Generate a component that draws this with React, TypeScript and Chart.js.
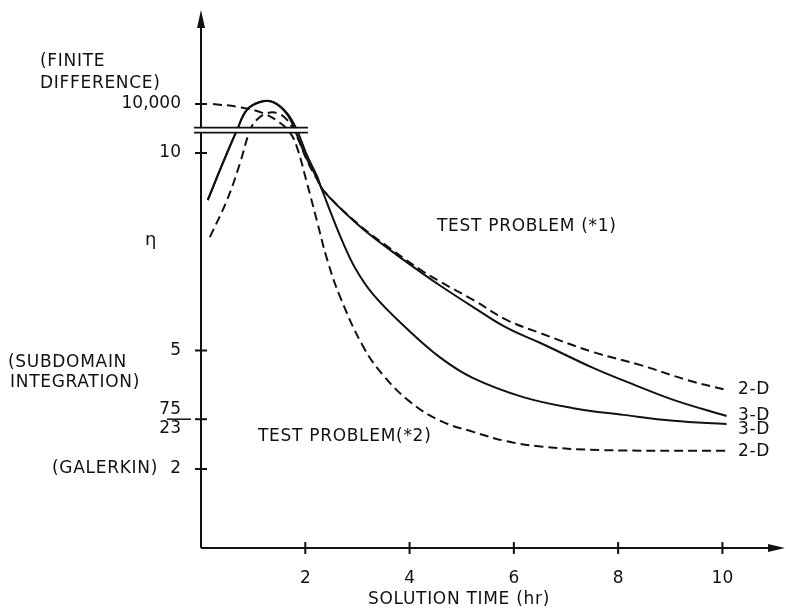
import React, { useEffect, useRef } from "react";
import { Chart, registerables } from "chart.js";

Chart.register(...registerables);

// ---- data (η in plot units; values above the break sit in the "10,000" band) ----
const X_TICKS = [2, 4, 6, 8, 10];
const Y_TICK_VALUES = [2, 75 / 23, 5, 10, 11.24];
const Y_TICK_LABELS: (string | string[])[] = ["2", ["75", "23"], "5", "10", "10,000"];

// Test problem #1, 2-D (dashed)
const A_X = [0.17, 0.5, 0.75, 0.94, 1.07, 1.27, 1.46, 1.65, 1.84, 2.03, 2.23, 2.34, 2.99, 3.63, 4.26, 4.59, 5.22, 5.87, 6.51, 7.52, 8.43, 9.33, 10.08];
const A_Y = [7.87, 8.81, 9.75, 10.58, 10.84, 11.01, 11.01, 10.84, 10.41, 9.82, 9.32, 9.06, 8.23, 7.58, 7.0, 6.74, 6.28, 5.77, 5.44, 4.96, 4.63, 4.25, 4.0];

// Test problem #1, 3-D (solid)
const B_X = [0.13, 0.42, 0.69, 0.88, 1.13, 1.38, 1.65, 1.84, 2.03, 2.23, 2.34, 2.99, 3.63, 4.26, 4.59, 5.22, 5.87, 6.51, 7.52, 8.18, 9.06, 10.08];
const B_Y = [8.81, 9.75, 10.58, 11.09, 11.29, 11.29, 11.01, 10.58, 9.95, 9.4, 9.06, 8.21, 7.54, 6.94, 6.64, 6.1, 5.57, 5.19, 4.56, 4.2, 3.75, 3.34];

// Test problem #2, 3-D (solid)
const C_X = [0.13, 0.42, 0.69, 0.88, 1.13, 1.38, 1.65, 1.84, 2.03, 2.23, 2.34, 2.5, 2.7, 2.95, 3.3, 3.95, 4.59, 5.22, 6.18, 7.14, 8.1, 9.06, 10.08];
const C_Y = [8.81, 9.75, 10.58, 11.09, 11.29, 11.29, 10.98, 10.45, 9.85, 9.35, 9.0, 8.45, 7.8, 7.1, 6.42, 5.55, 4.82, 4.3, 3.82, 3.54, 3.37, 3.22, 3.14];

// Test problem #2, 2-D (dashed)
const D_X = [0.23, 0.75, 1.19, 1.52, 1.71, 1.84, 2.03, 2.23, 2.42, 2.67, 3.11, 3.49, 4.01, 4.59, 5.22, 5.87, 6.51, 7.66, 10.08];
const D_Y = [11.24, 11.16, 11.01, 10.76, 10.51, 10.15, 9.25, 8.25, 7.3, 6.35, 5.1, 4.38, 3.7, 3.22, 2.94, 2.7, 2.57, 2.48, 2.46];

const SERIES = [
  { x: A_X, y: A_Y, dashed: true },
  { x: B_X, y: B_Y, dashed: false },
  { x: C_X, y: C_Y, dashed: false },
  { x: D_X, y: D_Y, dashed: true },
];

const END_LABELS = ["2-D", "3-D", "3-D", "2-D"];
const BREAK_VALUE = 10.58;
const FONT = "DejaVu Sans";
const INK = "#111";

const decor = {
  id: "decor",
  afterDraw(chart: any) {
    const ctx = chart.ctx as CanvasRenderingContext2D;
    const xs = chart.scales.x;
    const ys = chart.scales.y;
    const area = chart.chartArea;
    const x0 = xs.getPixelForValue(0);
    const y0 = ys.getPixelForValue(0);
    ctx.save();
    ctx.strokeStyle = INK;
    ctx.fillStyle = INK;
    ctx.lineWidth = 2;
    // y axis with arrow
    ctx.beginPath();
    ctx.moveTo(x0, y0);
    ctx.lineTo(x0, area.top + 14);
    ctx.stroke();
    ctx.beginPath();
    ctx.moveTo(x0, area.top);
    ctx.lineTo(x0 - 4, area.top + 18);
    ctx.lineTo(x0 + 4, area.top + 18);
    ctx.closePath();
    ctx.fill();
    // x axis with arrow
    ctx.beginPath();
    ctx.moveTo(x0, y0);
    ctx.lineTo(area.right - 14, y0);
    ctx.stroke();
    ctx.beginPath();
    ctx.moveTo(area.right, y0);
    ctx.lineTo(area.right - 17, y0 - 4);
    ctx.lineTo(area.right - 17, y0 + 4);
    ctx.closePath();
    ctx.fill();
    // crossing ticks
    ctx.lineWidth = 2;
    Y_TICK_VALUES.forEach((v) => {
      const p = ys.getPixelForValue(v);
      ctx.beginPath();
      ctx.moveTo(x0 - 6, p);
      ctx.lineTo(x0 + 6, p);
      ctx.stroke();
    });
    X_TICKS.forEach((v) => {
      const p = xs.getPixelForValue(v);
      ctx.beginPath();
      ctx.moveTo(p, y0 - 6);
      ctx.lineTo(p, y0 + 6);
      ctx.stroke();
    });
    // axis break (double line)
    const yb = ys.getPixelForValue(BREAK_VALUE);
    const bx1 = x0 - 7;
    const bx2 = xs.getPixelForValue(2.05);
    ctx.fillStyle = "#fff";
    ctx.fillRect(bx1, yb - 2, bx2 - bx1, 4);
    ctx.fillStyle = INK;
    ctx.lineWidth = 1.6;
    ctx.beginPath();
    ctx.moveTo(bx1, yb - 2.5);
    ctx.lineTo(bx2, yb - 2.5);
    ctx.moveTo(bx1, yb + 2.5);
    ctx.lineTo(bx2, yb + 2.5);
    ctx.stroke();
    // fraction bar of 75/23
    const yf = ys.getPixelForValue(75 / 23);
    ctx.lineWidth = 1.5;
    ctx.beginPath();
    ctx.moveTo(x0 - 34, yf);
    ctx.lineTo(x0 - 10, yf);
    ctx.stroke();
    // texts
    (ctx as any).letterSpacing = "0.7px";
    ctx.font = `17px "${FONT}"`;
    ctx.textBaseline = "middle";
    ctx.textAlign = "left";
    ctx.fillText("(FINITE", 40, 62);
    ctx.fillText("DIFFERENCE)", 40, 84);
    ctx.fillText("(SUBDOMAIN", 8, 363);
    ctx.fillText("INTEGRATION)", 10, 383);
    ctx.fillText("(GALERKIN)", 52, ys.getPixelForValue(2));
    ctx.fillText("TEST PROBLEM (*1)", 437, 227);
    ctx.fillText("TEST PROBLEM(*2)", 258, 437);
    ctx.font = `18px "${FONT}"`;
    ctx.fillText("η", 145, 240);
    ctx.font = `17px "${FONT}"`;
    const endOffsets = [0, 0, 6, 1];
    SERIES.forEach((s, i) => {
      const py = ys.getPixelForValue(s.y[s.y.length - 1]) + endOffsets[i];
      ctx.fillText(END_LABELS[i], 738, py);
    });
    ctx.textAlign = "center";
    ctx.fillText("SOLUTION TIME (hr)", 459, 600);
    ctx.restore();
  },
};

export default function App() {
  const ref = useRef<HTMLCanvasElement | null>(null);
  useEffect(() => {
    if (!ref.current) return;
    const chart = new Chart(ref.current, {
      type: "line",
      data: {
        datasets: SERIES.map((s) => ({
          data: s.x.map((x, i) => ({ x, y: s.y[i] })),
          borderColor: INK,
          borderWidth: 2,
          borderDash: s.dashed ? [9, 5] : [],
          pointRadius: 0,
          fill: false,
          tension: 0.4,
        })),
      },
      options: {
        animation: false,
        responsive: false,
        layout: { padding: { top: 10, right: 1, left: 0, bottom: 0 } },
        plugins: { legend: { display: false }, tooltip: { enabled: false } },
        scales: {
          x: {
            type: "linear",
            min: 0,
            max: 11.2,
            afterBuildTicks: (s: any) => {
              s.ticks = X_TICKS.map((v) => ({ value: v }));
            },
            afterFit: (s: any) => {
              s.height = 63;
              s.paddingLeft = 0;
              s.paddingRight = 0;
              s.paddingTop = 0;
              s.paddingBottom = 0;
            },
            grid: { display: false },
            border: { display: false },
            ticks: { padding: 12, color: INK, font: { family: FONT, size: 17 } },
          },
          y: {
            type: "linear",
            min: 0,
            max: 13.62,
            afterBuildTicks: (s: any) => {
              s.ticks = Y_TICK_VALUES.map((v) => ({ value: v }));
            },
            afterFit: (s: any) => {
              s.width = 201;
              s.paddingLeft = 0;
              s.paddingRight = 0;
              s.paddingTop = 0;
              s.paddingBottom = 0;
            },
            grid: { display: false },
            border: { display: false },
            ticks: {
              padding: 12,
              autoSkip: false,
              color: INK,
              font: { family: FONT, size: 17, lineHeight: 1.1 },
              callback: (_v: any, i: number) => Y_TICK_LABELS[i],
            },
          },
        },
      } as any,
      plugins: [decor],
    });
    return () => chart.destroy();
  }, []);
  return (
    <div style={{ position: "fixed", left: 0, top: 0, width: 786, height: 611, background: "#fff" }}>
      <canvas ref={ref} width={786} height={611} style={{ display: "block" }} />
    </div>
  );
}
